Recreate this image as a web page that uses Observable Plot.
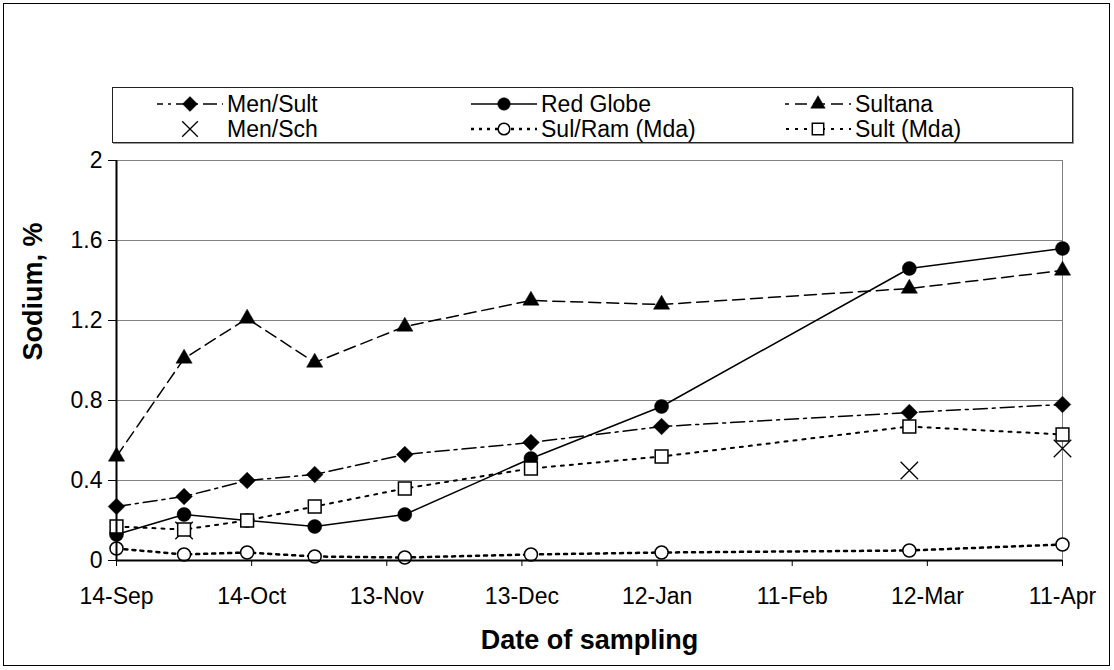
<!DOCTYPE html>
<html><head><meta charset="utf-8">
<script src="https://cdn.jsdelivr.net/npm/d3@7"></script>
<script src="https://cdn.jsdelivr.net/npm/@observablehq/plot@0.6"></script>
<style>
body{margin:0;background:#fff;font-family:"Liberation Sans",Arial,sans-serif;}
#chart{position:absolute;left:0;top:0;}
#frame{position:absolute;left:3px;top:3px;width:1107px;height:663px;border:1.5px solid #000;box-sizing:border-box;pointer-events:none;}
#legend{position:absolute;left:112px;top:87px;width:961px;height:56px;border:1.5px solid #222;box-sizing:border-box;background:#fff;box-shadow:1px 1px 0 #999;}
.item{position:absolute;height:26px;display:flex;align-items:center;font-size:23px;color:#000;white-space:nowrap;}
.item svg{display:block;margin-right:4px;}
</style></head><body>
<div id="chart"></div>
<div id="frame"></div>
<div id="legend"></div>
<script>
// ---- data ----
const sampleDates = ["2007-09-14","2007-09-29","2007-10-13","2007-10-28","2007-11-17","2007-12-15","2008-01-13","2008-03-08","2008-04-11"];
const menSult   = [0.27, 0.32, 0.40, 0.43, 0.53, 0.59, 0.67, 0.74, 0.78];
const redGlobe  = [0.13, 0.23, 0.20, 0.17, 0.23, 0.51, 0.77, 1.46, 1.56];
const sultana   = [0.52, 1.01, 1.21, 0.99, 1.17, 1.30, 1.28, 1.36, 1.45];
const menSchDates = ["2007-09-29","2008-03-08","2008-04-11"];
const menSch    = [0.15, 0.45, 0.56];
const sulRamMda = [0.06, 0.03, 0.04, 0.02, 0.015, 0.03, 0.04, 0.05, 0.08];
const sultMda   = [0.17, 0.155, 0.20, 0.27, 0.36, 0.46, 0.52, 0.67, 0.63];
const xTickDates = ["2007-09-14","2007-10-14","2007-11-13","2007-12-13","2008-01-12","2008-02-11","2008-03-12","2008-04-11"];
const yTicks = [0, 0.4, 0.8, 1.2, 1.6, 2];
const xLabel = "Date of sampling";
const yLabel = "Sodium, %";

// ---- series styling ----
const series = [
  {name:"Men/Sult",     dates:sampleDates,  values:menSult,   line:true, dash:"14,5,3,5", sw:1.5, symbol:"diamond2", r:7.5, fill:"#000"},
  {name:"Red Globe",    dates:sampleDates,  values:redGlobe,  line:true, dash:null,       sw:1.5, symbol:"circle",   r:7,   fill:"#000"},
  {name:"Sultana",      dates:sampleDates,  values:sultana,   line:true, dash:"12,6",     sw:1.5, symbol:"triangle", r:6,   fill:"#000"},
  {name:"Men/Sch",      dates:menSchDates,  values:menSch,    line:false,dash:null,       sw:1.2, symbol:"times",    r:8,   fill:"none"},
  {name:"Sul/Ram (Mda)",dates:sampleDates,  values:sulRamMda, line:true, dash:"3,5",      sw:2.5, symbol:"circle",   r:6.5, fill:"#fff"},
  {name:"Sult (Mda)",   dates:sampleDates,  values:sultMda,   line:true, dash:"3,6",      sw:2,   symbol:"square",   r:7.2, fill:"#fff"}
];
const parse = d3.utcParse("%Y-%m-%d");
series.forEach(s => s.rows = s.dates.map((d,i) => ({date: parse(d), value: s.values[i], series: s.name})));

const marks = [
  Plot.frame({stroke:"#808080", strokeWidth:1}),
  Plot.gridY(yTicks.filter(v => v > 0), {stroke:"#808080", strokeOpacity:1, strokeWidth:1}),
];
series.forEach(s => {
  if (s.line) marks.push(Plot.line(s.rows, {x:"date", y:"value", stroke:"#000", strokeWidth: s.sw, strokeDasharray: s.dash}));
});
series.forEach(s => {
  const isStroke = s.symbol === "times";
  marks.push(Plot.dot(s.rows, {x:"date", y:"value", symbol: s.symbol, r: s.r,
    fill: isStroke ? "none" : s.fill, stroke: "#000", strokeWidth: isStroke ? 1.3 : (s.fill === "#fff" ? 1.5 : 0.5)}));
});
marks.push(
  Plot.ruleX([parse(xTickDates[0])], {stroke:"#000", strokeWidth:2}),
  Plot.ruleY([0], {stroke:"#000", strokeWidth:2}),
  Plot.axisX({ticks: xTickDates.map(parse), tickFormat: d3.utcFormat("%-d-%b"), tickSize:6, tickPadding:21, fontSize:23, label:null, stroke:"#000"}),
  Plot.axisY({ticks: yTicks, tickFormat: d => String(d), tickSize:8, tickPadding:6, fontSize:23, label:null}),
  Plot.text([xLabel], {frameAnchor:"bottom", dy:88, fontSize:27, fontWeight:"bold"}),
  Plot.text([yLabel], {frameAnchor:"left", dx:-83, rotate:-90, fontSize:27, fontWeight:"bold"})
);

const chart = Plot.plot({
  width:1114, height:670,
  marginLeft:116, marginRight:52, marginTop:160, marginBottom:110,
  style:{fontFamily:"Liberation Sans, Arial, sans-serif", color:"#000", background:"#fff", overflow:"visible"},
  x:{type:"utc", domain:[parse(xTickDates[0]), parse(xTickDates[xTickDates.length-1])]},
  y:{domain:[0,2]},
  marks
});
document.getElementById("chart").append(chart);

// ---- legend ----
const legend = d3.select("#legend");
const colX = [44, 358, 672];   // relative to legend box
const rowY = [3, 28];
series.forEach((s, k) => {
  const col = k % 3, row = Math.floor(k / 3);
  const item = legend.append("div").attr("class","item")
    .style("left", colX[col] + "px").style("top", rowY[row] + "px");
  const w = 66, h = 26;
  const svg = item.append("svg").attr("width", w).attr("height", h);
  if (s.line) svg.append("line").attr("x1",0).attr("x2",w).attr("y1",h/2).attr("y2",h/2)
    .attr("stroke","#000").attr("stroke-width", s.sw).attr("stroke-dasharray", s.dash)
    .attr("stroke-dashoffset", s.dash ? 8 : null);
  const symMap = {circle:d3.symbolCircle, triangle:d3.symbolTriangle, square:d3.symbolSquare, diamond2:d3.symbolDiamond2, times:d3.symbolTimes};
  const sz = Math.PI * s.r * s.r * 0.8;
  svg.append("path").attr("transform", `translate(${w/2},${h/2})`)
    .attr("d", d3.symbol(symMap[s.symbol], sz)())
    .attr("fill", s.symbol === "times" ? "none" : s.fill)
    .attr("stroke","#000").attr("stroke-width", s.symbol === "times" ? 1.3 : (s.fill === "#fff" ? 1.5 : 0.5));
  item.append("span").text(s.name);
});
</script>
</body></html>
